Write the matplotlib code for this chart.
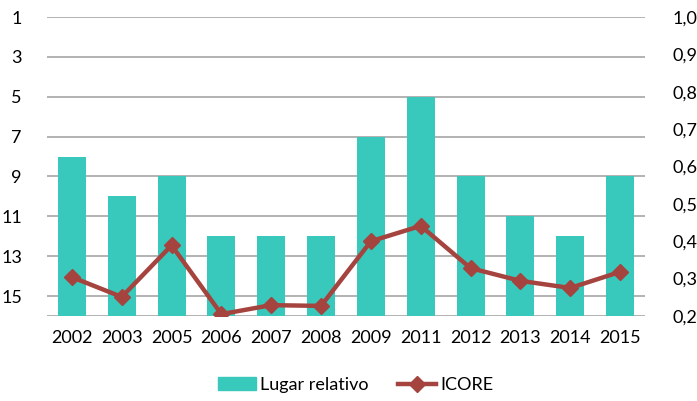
import matplotlib
matplotlib.use("Agg")
import matplotlib.pyplot as plt
from matplotlib.lines import Line2D
from matplotlib.patches import Patch

# datos
years = ["2002", "2003", "2005", "2006", "2007", "2008", "2009",
         "2011", "2012", "2013", "2014", "2015"]
lugar = [8, 10, 9, 12, 12, 12, 7, 5, 9, 11, 12, 9]
icore = [0.304, 0.251, 0.389, 0.205, 0.229, 0.227, 0.400,
         0.441, 0.328, 0.294, 0.275, 0.318]
left_ticks = [1, 3, 5, 7, 9, 11, 13, 15]
right_ticks = [0.2, 0.3, 0.4, 0.5, 0.6, 0.7, 0.8, 0.9, 1.0]

bar_color = "#38C9BC"
line_color = "#A5443F"
grid_color = "#A6A6A6"

plt.rcParams["font.family"] = ["Lato", "DejaVu Sans"]
plt.rcParams["font.size"] = 13

fig = plt.figure(figsize=(6.97, 4.01), dpi=100)
ax = fig.add_axes([0.0674, 0.212, 0.858, 0.7456])
x = list(range(len(years)))

# barras desde el fondo (16) hasta el lugar
ax.bar(x, [v - 16 for v in lugar], bottom=16, width=0.56,
       color=bar_color, zorder=2)
ax.set_ylim(16, 1)
ax.set_yticks(left_ticks)
ax.set_xlim(-0.5, len(years) - 0.5)
ax.set_xticks(x)
ax.set_xticklabels(years)
for t in left_ticks + [16]:
    ax.axhline(t, color=grid_color, lw=1.2, zorder=1)
for s in ax.spines.values():
    s.set_visible(False)
ax.tick_params(axis="y", length=0, pad=18)
ax.tick_params(axis="x", length=0, pad=10)

ax2 = ax.twinx()
ax2.plot(x, icore, color=line_color, lw=3.2, marker="D", markersize=8,
         zorder=3)
ax2.set_ylim(0.2, 1.0)
ax2.set_yticks(right_ticks)
ax2.set_yticklabels([f"{v:.1f}".replace(".", ",") for v in right_ticks])
for s in ax2.spines.values():
    s.set_visible(False)
ax2.tick_params(axis="y", length=0, pad=20)

handles = [Patch(color=bar_color, label="Lugar relativo"),
           Line2D([], [], color=line_color, lw=3.2, marker="D",
                  markersize=8, label="ICORE")]
fig.legend(handles=handles, loc="center", bbox_to_anchor=(0.51, 0.04),
           ncol=2, frameon=False, handlelength=2.1, columnspacing=1.6,
           handletextpad=0.25)

fig.savefig("out.png", dpi=100)
